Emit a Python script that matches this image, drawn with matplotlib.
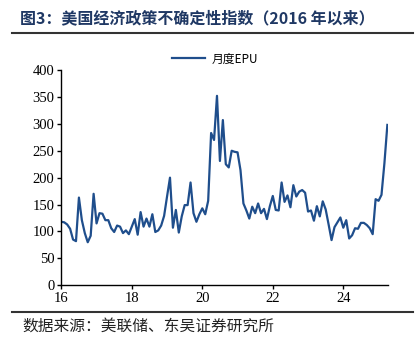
import matplotlib
matplotlib.use("Agg")
import matplotlib.pyplot as plt
from matplotlib.lines import Line2D
import numpy as np

title = "图3：美国经济政策不确定性指数（2016 年以来）"
source = "数据来源：美联储、东吴证券研究所"
series_name = "月度EPU"
start_year = 16
epu = [118, 117, 113, 105, 85, 82, 163, 121, 97, 80, 92, 170, 115, 134, 133, 121,
       121, 106, 99, 111, 109, 97, 102, 95, 109, 123, 94, 136, 109, 124, 109, 132,
       99, 102, 111, 129, 165, 200, 107, 140, 98, 128, 149, 149, 191, 134, 118, 132,
       143, 132, 157, 283, 270, 352, 231, 307, 225, 219, 250, 248, 247, 214, 152, 139,
       124, 146, 134, 152, 134, 142, 123, 147, 166, 140, 139, 191, 155, 167, 145, 186,
       165, 174, 177, 172, 137, 139, 120, 147, 128, 156, 141, 113, 84, 108, 117, 126,
       107, 121, 87, 93, 106, 105, 116, 116, 112, 106, 95, 160, 157, 168, 227, 298]
xticks = [16, 18, 20, 22, 24]
yticks = [0, 50, 100, 150, 200, 250, 300, 350, 400]

W, H = 419, 353
fig = plt.figure(figsize=(W / 100, H / 100), dpi=100)
cjk = ['Noto Sans CJK SC', 'DejaVu Sans']
serif = ['Liberation Serif', 'DejaVu Serif']

x = start_year + np.arange(len(epu)) / 12.0

ax = fig.add_axes([61.3 / W, 1 - 285.3 / H, (388 - 61.3) / W, (285.3 - 70) / H])
ax.plot(x, epu, color='#1F4E8C', lw=1.6)
ax.set_xlim(16, 16 + (388 - 61.3) / 35.25)
ax.set_ylim(0, 400)
ax.set_xticks(xticks)
ax.set_xticklabels([str(t) for t in xticks], fontfamily=serif, fontsize=10.5)
ax.set_yticks(yticks)
ax.set_yticklabels([str(t) for t in yticks], fontfamily=serif, fontsize=10.5)
for s in ['top', 'right']:
    ax.spines[s].set_visible(False)
for s in ['left', 'bottom']:
    ax.spines[s].set_linewidth(1.0)
    ax.spines[s].set_color('black')
ax.tick_params(direction='out', length=3, width=1, colors='black', pad=2)
ax.patch.set_alpha(0)

handle = Line2D([0], [0], color='#1F4E8C', lw=1.6)
fig.legend([handle], [series_name], loc='center', bbox_to_anchor=(215 / W, 1 - 59 / H),
           frameon=False, prop={'family': cjk, 'size': 8.5}, handlelength=2.8,
           handletextpad=0.5)

fig.text(20 / W, 1 - 18 / H, title, fontfamily=cjk, fontsize=11.5, fontweight='bold',
         color='#1F3864', va='center', ha='left')
fig.add_artist(Line2D([12 / W, 413 / W], [1 - 33 / H, 1 - 33 / H], color='#333333', lw=1.5))
fig.add_artist(Line2D([12 / W, 413 / W], [1 - 312 / H, 1 - 312 / H], color='#333333', lw=1.5))
fig.text(22 / W, 1 - 326 / H, source, fontfamily=cjk, fontsize=11.3, color='#222222',
         va='center', ha='left')

fig.savefig('out.png', dpi=100)
